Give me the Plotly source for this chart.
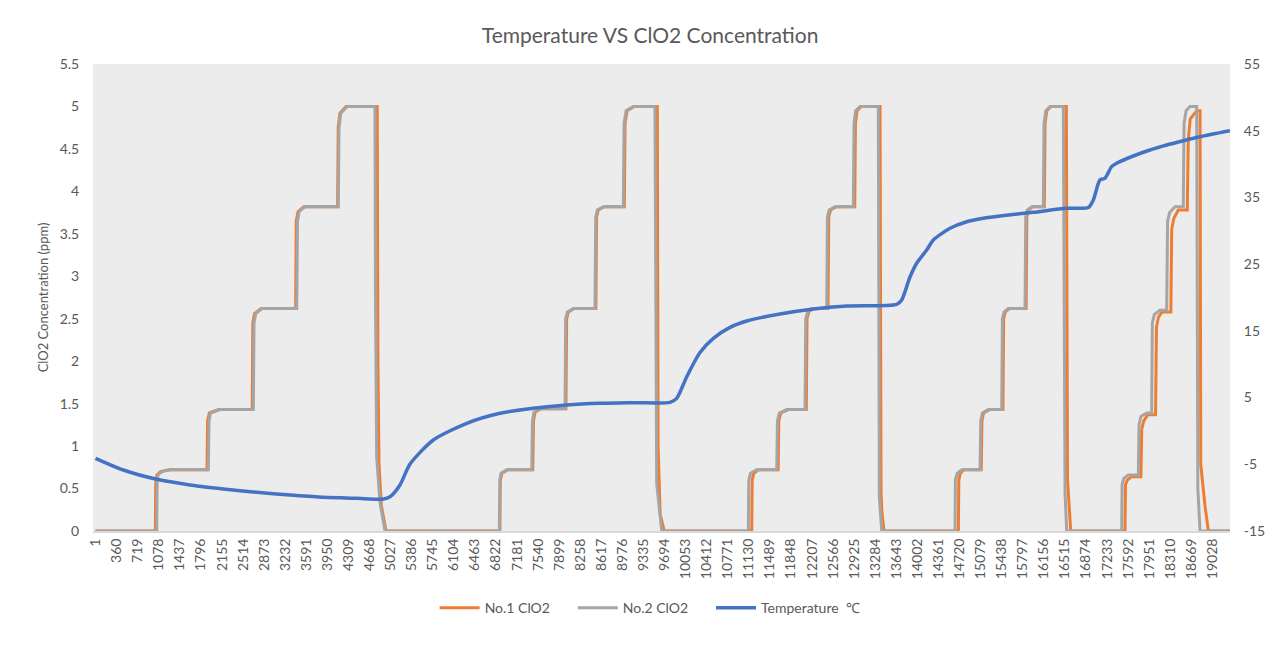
import plotly.graph_objects as go

# ---------------- data ----------------
x_tick_labels = [1, 360, 719, 1078, 1437, 1796, 2155, 2514, 2873, 3232, 3591, 3950,
                 4309, 4668, 5027, 5386, 5745, 6104, 6463, 6822, 7181, 7540, 7899,
                 8258, 8617, 8976, 9335, 9694, 10053, 10412, 10771, 11130, 11489,
                 11848, 12207, 12566, 12925, 13284, 13643, 14002, 14361, 14720,
                 15079, 15438, 15797, 16156, 16515, 16874, 17233, 17592, 17951,
                 18310, 18669, 19028]
left_ticks = [0, 0.5, 1, 1.5, 2, 2.5, 3, 3.5, 4, 4.5, 5, 5.5]
right_ticks = [-15, -5, 5, 15, 25, 35, 45, 55]

# No.2 ClO2 (sample index, ppm)
no2_idx = [1, 1044, 1050, 1065, 1130, 1270, 1923, 1934, 1960, 2122, 2690, 2701, 2730, 2838,
           3429, 3442, 3470, 3570, 4137, 4149, 4180, 4286, 4762, 4770, 4791, 4848, 4933,
           6880, 6888, 6910, 7006, 7432, 7445, 7470, 7574, 7999, 8010, 8040, 8141,
           8510, 8522, 8550, 8652, 8993, 9005, 9040, 9163, 9532, 9561, 9600, 9647,
           11122, 11130, 11160, 11265, 11606, 11618, 11650, 11777, 12088, 12100, 12130, 12202,
           12458, 12470, 12500, 12599, 12911, 12923, 12950, 13025, 13337, 13354, 13395,
           14643, 14650, 14680, 14757, 15070, 15082, 15110, 15211, 15439, 15450, 15480, 15552,
           15836, 15848, 15875, 15950, 16148, 16160, 16190, 16262, 16489, 16518, 16546,
           17483, 17490, 17520, 17596, 17766, 17778, 17810, 17908, 17993, 18005, 18040, 18135,
           18249, 18265, 18300, 18392, 18532, 18545, 18580, 18647, 18761, 18780, 18818, 19328]
no2_val = [0, 0, 0.55, 0.66, 0.70, 0.72, 0.72, 1.30, 1.39, 1.43, 1.43, 2.45, 2.56, 2.62,
           2.62, 3.65, 3.76, 3.82, 3.82, 4.75, 4.92, 5.0, 5.0, 2.8, 0.87, 0.33, 0,
           0, 0.6, 0.68, 0.72, 0.72, 1.30, 1.40, 1.44, 1.44, 2.50, 2.58, 2.62,
           2.62, 3.70, 3.78, 3.82, 3.82, 4.80, 4.95, 5.0, 5.0, 0.56, 0.3, 0,
           0, 0.6, 0.68, 0.72, 0.72, 1.30, 1.39, 1.43, 1.43, 2.50, 2.58, 2.62,
           2.62, 3.70, 3.78, 3.82, 3.82, 4.80, 4.95, 5.0, 5.0, 0.4, 0,
           0, 0.6, 0.68, 0.72, 0.72, 1.30, 1.39, 1.43, 1.43, 2.50, 2.58, 2.62,
           2.62, 3.70, 3.78, 3.82, 3.82, 4.80, 4.95, 5.0, 5.0, 0.45, 0,
           0, 0.55, 0.62, 0.66, 0.66, 1.25, 1.35, 1.39, 1.39, 2.45, 2.55, 2.60,
           2.60, 3.65, 3.75, 3.82, 3.82, 4.80, 4.95, 5.0, 5.0, 0.5, 0, 0]

# No.1 ClO2 (sample index, ppm)
no1_idx = [1, 1020, 1026, 1045, 1110, 1250, 1900, 1910, 1940, 2100, 2670, 2680, 2710, 2820,
           3410, 3420, 3450, 3550, 4125, 4135, 4165, 4270, 4800, 4812, 4830, 4870, 4950,
           6890, 6898, 6925, 7020, 7450, 7462, 7490, 7590, 8015, 8027, 8057, 8158,
           8525, 8537, 8565, 8667, 9010, 9022, 9057, 9180, 9572, 9585, 9620, 9690,
           11180, 11188, 11215, 11290, 11630, 11642, 11675, 11800, 12110, 12122, 12152, 12225,
           12480, 12492, 12522, 12620, 12935, 12947, 12975, 13045, 13366, 13383, 13400, 13434,
           14700, 14708, 14735, 14790, 15090, 15102, 15130, 15230, 15460, 15472, 15500, 15570,
           15855, 15867, 15895, 15970, 16165, 16177, 16207, 16280, 16540, 16560, 16590, 16615,
           17539, 17548, 17580, 17650, 17810, 17824, 17860, 17930, 18060, 18075, 18110, 18170,
           18320, 18335, 18370, 18447, 18600, 18617, 18650, 18760, 18818, 18830, 18903, 18960, 19328]
no1_val = [0, 0, 0.55, 0.66, 0.70, 0.72, 0.72, 1.30, 1.39, 1.43, 1.43, 2.45, 2.56, 2.62,
           2.62, 3.65, 3.76, 3.82, 3.82, 4.75, 4.92, 5.0, 5.0, 2.0, 0.8, 0.3, 0,
           0, 0.6, 0.68, 0.72, 0.72, 1.30, 1.40, 1.44, 1.44, 2.50, 2.58, 2.62,
           2.62, 3.70, 3.78, 3.82, 3.82, 4.80, 4.95, 5.0, 5.0, 1.0, 0.2, 0,
           0, 0.6, 0.68, 0.72, 0.72, 1.30, 1.39, 1.43, 1.43, 2.50, 2.58, 2.62,
           2.62, 3.70, 3.78, 3.82, 3.82, 4.80, 4.95, 5.0, 5.0, 0.45, 0.2, 0,
           0, 0.6, 0.68, 0.72, 0.72, 1.30, 1.39, 1.43, 1.43, 2.50, 2.58, 2.62,
           2.62, 3.70, 3.78, 3.82, 3.82, 4.80, 4.95, 5.0, 5.0, 0.6, 0.25, 0,
           0, 0.55, 0.60, 0.64, 0.64, 1.20, 1.30, 1.37, 1.37, 2.40, 2.52, 2.58,
           2.58, 3.55, 3.68, 3.78, 3.78, 4.60, 4.85, 4.95, 4.95, 0.78, 0.29, 0, 0]

# Temperature (sample index, degC)
temp_idx = [1, 475, 1044, 1611, 2178, 2747, 3315, 3882, 4451, 4904, 5018, 5188, 5359,
            5756, 6325, 6892, 7459, 8028, 8596, 9163, 9788, 9902, 10073, 10299, 10526,
            10810, 11095, 11662, 12230, 12798, 13650, 13735, 13876, 13990, 14161, 14274,
            14558, 14843, 15126, 15410, 15977, 16546, 16914, 16999, 17112, 17197, 17311,
            17397, 17680, 17964, 18249, 18532, 18816, 19327]
temp_val = [-4.10, -5.86, -7.25, -8.10, -8.70, -9.20, -9.60, -9.95, -10.10, -10.20, -9.86,
            -8.10, -4.96, -1.36, 1.14, 2.64, 3.39, 3.89, 4.14, 4.23, 4.29, 4.89, 8.13,
            11.76, 13.88, 15.53, 16.48, 17.53, 18.28, 18.73, 18.98, 19.63, 23.07, 25.13,
            27.12, 28.62, 30.37, 31.36, 31.87, 32.22, 32.77, 33.37, 33.49, 34.61, 37.61,
            37.87, 39.61, 40.12, 41.21, 42.11, 42.86, 43.50, 44.10, 45.0]

# ---------------- figure ----------------
FONT = "Lato"
TXT = "#595959"
PAD = "\u00a0" * 5

fig = go.Figure()
fig.add_trace(go.Scatter(x=no1_idx, y=no1_val, mode="lines", name="No.1 ClO2" + PAD,
                         line=dict(color="#ED7D31", width=3)))
fig.add_trace(go.Scatter(x=no2_idx, y=no2_val, mode="lines", name="No.2 ClO2" + PAD,
                         line=dict(color="#A5A5A5", width=3)))
fig.add_trace(go.Scatter(x=temp_idx, y=temp_val, mode="lines", name="Temperature  ℃",
                         yaxis="y2",
                         line=dict(color="#4472C4", width=3.5, shape="spline", smoothing=0.7)))

fig.update_layout(
    width=1280, height=637,
    margin=dict(l=85, r=58, t=56, b=114),
    paper_bgcolor="white",
    plot_bgcolor="#ECECEC",
    font=dict(family=FONT, color=TXT, size=14),
    title=dict(text="Temperature VS ClO2 Concentration", x=0.49, xref="paper",
               xanchor="center", y=0.957, yanchor="middle",
               font=dict(family=FONT, size=21, color=TXT)),
    xaxis=dict(range=[-42, 19328], tickmode="array", tickvals=x_tick_labels,
               ticktext=[str(v) for v in x_tick_labels], tickangle=-90,
               showgrid=False, zeroline=False, showline=True, linecolor="#D9D9D9",
               linewidth=2, ticks="", tickfont=dict(size=14, color=TXT)),
    yaxis=dict(range=[0, 5.5], tickmode="array", tickvals=left_ticks,
               ticktext=[f"{v:g}" for v in left_ticks], showgrid=False, zeroline=False,
               ticks="outside", ticklen=10, tickcolor="rgba(0,0,0,0)",
               tickfont=dict(size=14, color=TXT),
               title=dict(text="ClO2 Concentration (ppm)", font=dict(size=13, color=TXT),
                          standoff=8)),
    yaxis2=dict(range=[-15, 55], tickmode="array", tickvals=right_ticks,
                ticktext=[str(v) for v in right_ticks], overlaying="y", side="right",
                showgrid=False, zeroline=False, ticks="outside", ticklen=10,
                tickcolor="rgba(0,0,0,0)", tickfont=dict(size=14, color=TXT)),
    legend=dict(orientation="h", x=0.49, xanchor="center", y=-0.165, yanchor="middle",
                font=dict(size=14, color=TXT), bgcolor="rgba(0,0,0,0)",
                itemwidth=40),
    showlegend=True,
)

# light chart border like the original chart area outline
fig.add_shape(type="rect", xref="paper", yref="paper", x0=-0.0774, x1=1.0484,
              y0=-0.26, y1=1.1306, line=dict(color="#D9D9D9", width=1), layer="below")

fig.write_html("out.html")
